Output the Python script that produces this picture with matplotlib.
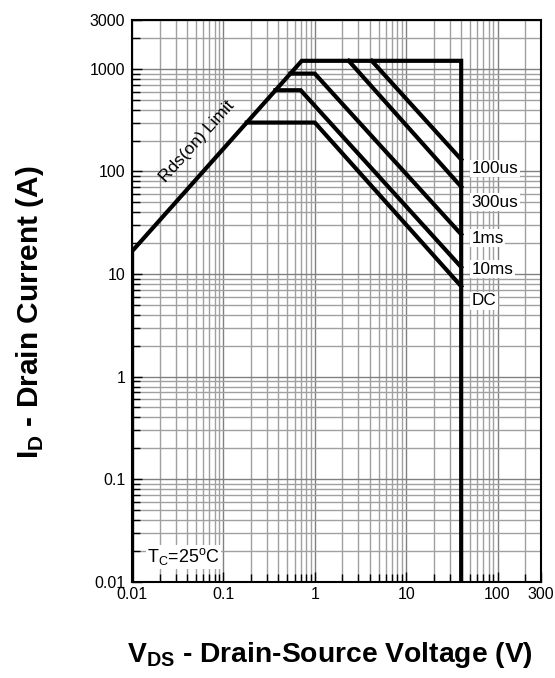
import numpy as np
import matplotlib.pyplot as plt
from matplotlib.ticker import LogLocator, FixedLocator, NullFormatter

plt.rcParams['font.family'] = ['Liberation Sans', 'DejaVu Sans']
plt.rcParams['mathtext.fontset'] = 'custom'
plt.rcParams['mathtext.rm'] = 'Liberation Sans'
plt.rcParams['mathtext.bf'] = 'Liberation Sans:bold'

# Safe operating area curves (V in volts, I in amps)
limit_v = [0.01, 0.01, 0.72, 40, 40]
limit_i = [0.01, 16.7, 1200, 1200, 0.01]

pulse_names = ['100us', '300us', '1ms', '10ms', 'DC']
pulse_v = [[4.2, 40], [2.35, 40], [0.54, 1.0, 40], [0.37, 0.7, 40], [0.18, 1.0, 40]]
pulse_i = [[1200, 131], [1200, 71], [900, 900, 24.4], [620, 620, 11.7], [300, 300, 7.6]]
label_i = [107, 50, 22.4, 11.2, 5.5]

x_ticks = [0.01, 0.1, 1, 10, 100, 300]
x_labels = ['0.01', '0.1', '1', '10', '100', '300']
y_ticks = [0.01, 0.1, 1, 10, 100, 1000, 3000]
y_labels = ['0.01', '0.1', '1', '10', '100', '1000', '3000']

fig = plt.figure(figsize=(5.55, 6.78), dpi=100)
ax = fig.add_axes([0.238, 0.142, 0.737, 0.8285])
ax.set_xscale('log')
ax.set_yscale('log')
ax.set_xlim(0.01, 300)
ax.set_ylim(0.01, 3000)

ax.grid(which='major', color='#808080', lw=1.0)
ax.grid(which='minor', color='#a0a0a0', lw=1.0)
ax.xaxis.set_minor_locator(LogLocator(base=10, subs=np.arange(2, 10)))
ax.yaxis.set_minor_locator(LogLocator(base=10, subs=np.arange(2, 10)))
ax.xaxis.set_minor_formatter(NullFormatter())
ax.yaxis.set_minor_formatter(NullFormatter())
ax.xaxis.set_major_locator(FixedLocator(x_ticks))
ax.yaxis.set_major_locator(FixedLocator(y_ticks))
ax.set_xticklabels(x_labels)
ax.set_yticklabels(y_labels)
ax.tick_params(which='both', direction='in', labelsize=11.5, color='black')
ax.tick_params(which='major', length=7, width=1)
ax.tick_params(which='minor', length=6, width=1)
ax.tick_params(axis='x', pad=4)
ax.tick_params(axis='y', pad=5)
for s in ax.spines.values():
    s.set_linewidth(1.5)
    s.set_zorder(5)

ax.plot(limit_v, limit_i, color='black', lw=3, solid_joinstyle='miter', zorder=4)
for v, i in zip(pulse_v, pulse_i):
    ax.plot(v, i, color='black', lw=3, solid_joinstyle='miter', zorder=4)

for name, li in zip(pulse_names, label_i):
    ax.text(52, li, name, fontsize=12.3, ha='left', va='center',
            bbox=dict(facecolor='white', edgecolor='none', pad=1), zorder=6)

ax.text(0.051, 195, 'Rds(on) Limit', fontsize=12.5, rotation=48, ha='center', va='center',
        zorder=6)
ax.text(0.0146, 0.0175, r'T$_{\rm C}$=25$^{\rm o}$C', fontsize=12.9, ha='left', va='center',
        bbox=dict(facecolor='white', edgecolor='none', pad=1), zorder=6)

fig.text(0.054, 0.54, r'I$_{\mathbf{D}}$ - Drain Current (A)', rotation=90, fontsize=21.5,
         fontweight='bold', ha='center', va='center')
fig.text(0.595, 0.034, r'V$_{\mathbf{DS}}$ - Drain-Source Voltage (V)', fontsize=20.3,
         fontweight='bold', ha='center', va='center')

fig.savefig('out.png', dpi=100)
